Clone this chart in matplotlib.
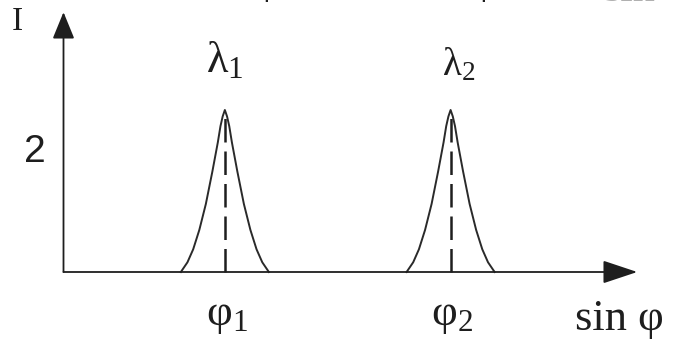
import numpy as np
import matplotlib
matplotlib.use("Agg")
import matplotlib.pyplot as plt

plt.rcParams["font.family"] = ["Liberation Serif", "DejaVu Serif"]
plt.rcParams["mathtext.fontset"] = "custom"
plt.rcParams["mathtext.rm"] = "Liberation Serif"
plt.rcParams["mathtext.it"] = "Liberation Serif:italic"

# Line positions (sin phi units) and peak parameters
peak_centers = [0.99, 2.375]
peak_labels = ["λ_1", "λ_2"]
phi_labels = ["φ_1", "φ_2"]
peak_height = 2.7
half_width = 0.27

# Line profile: distance from centre (fraction of half width) vs relative intensity
profile_offset = [0.0, 0.05, 0.1, 0.16, 0.284, 0.432, 0.58, 0.72, 0.85, 1.0]
profile_level = [1.0, 0.96, 0.9, 0.8, 0.62, 0.42, 0.26, 0.14, 0.06, 0.0]

y_ticks = [2]
x_axis_end = 3.52
y_axis_end = 4.33

ink = "#1e1e1e"

fig = plt.figure(figsize=(6.77, 3.41), dpi=100)
ax = fig.add_axes([0, 0, 1, 1])
ax.set_xlim(-0.3896, 3.764)
ax.set_ylim(-1.15, 4.533)
ax.axis("off")

# Axes with arrowheads
ax.annotate("", xy=(x_axis_end, 0), xytext=(0, 0),
            arrowprops=dict(arrowstyle="-|>,head_length=1.08,head_width=0.36",
                            mutation_scale=20, lw=1.3, color=ink,
                            shrinkA=0, shrinkB=0))
ax.annotate("", xy=(0, y_axis_end), xytext=(0, 0),
            arrowprops=dict(arrowstyle="-|>,head_length=0.83,head_width=0.34",
                            mutation_scale=20, lw=1.3, color=ink,
                            shrinkA=0, shrinkB=0))

off = np.array(profile_offset)
lev = np.array(profile_level)
for c in peak_centers:
    xs = c + half_width * np.concatenate([-off[::-1], off[1:]])
    ys = peak_height * np.concatenate([lev[::-1], lev[1:]])
    ax.plot(xs, ys, color="#2a2a2a", lw=1.4, solid_joinstyle="round")
    ax.plot([c, c], [0, peak_height], color=ink, lw=1.8,
            linestyle=(0, (9.4, 3.6)))

# Wavelength labels above the peaks
ax.text(peak_centers[0], 3.33, r"$\mathregular{%s}$" % peak_labels[0],
        fontsize=32, ha="center", va="baseline", color=ink)
ax.text(peak_centers[1] + 0.05, 3.28, r"$\mathregular{%s}$" % peak_labels[1],
        fontsize=28, ha="center", va="baseline", color=ink)

# Angle labels under the axis
for c, lab in zip(peak_centers, phi_labels):
    ax.text(c + 0.01, -0.883, r"$\mathregular{%s}$" % lab, fontsize=32,
            ha="center", va="baseline", color=ink)

ax.text(3.138, -0.967, "sin φ", fontsize=32,
        ha="left", va="baseline", color=ink)

for t in y_ticks:
    ax.text(-0.175, t, str(t), fontsize=28, family="Liberation Sans",
            ha="center", va="center", color=ink)

ax.text(-0.282, 4.03, "I", fontsize=24,
        ha="center", va="baseline", color=ink)

# Text line running off the top edge
ax.text(1.29, 4.645, r"$\mathregular{φ_1}$", fontsize=32,
        ha="center", va="baseline", color=ink)
ax.text(2.62, 4.645, r"$\mathregular{φ_2}$", fontsize=32,
        ha="center", va="baseline", color=ink)
ax.text(3.31, 4.52, "sin", fontsize=32,
        ha="left", va="baseline", color="#b0b0b0")

fig.savefig("out.png", dpi=100)
